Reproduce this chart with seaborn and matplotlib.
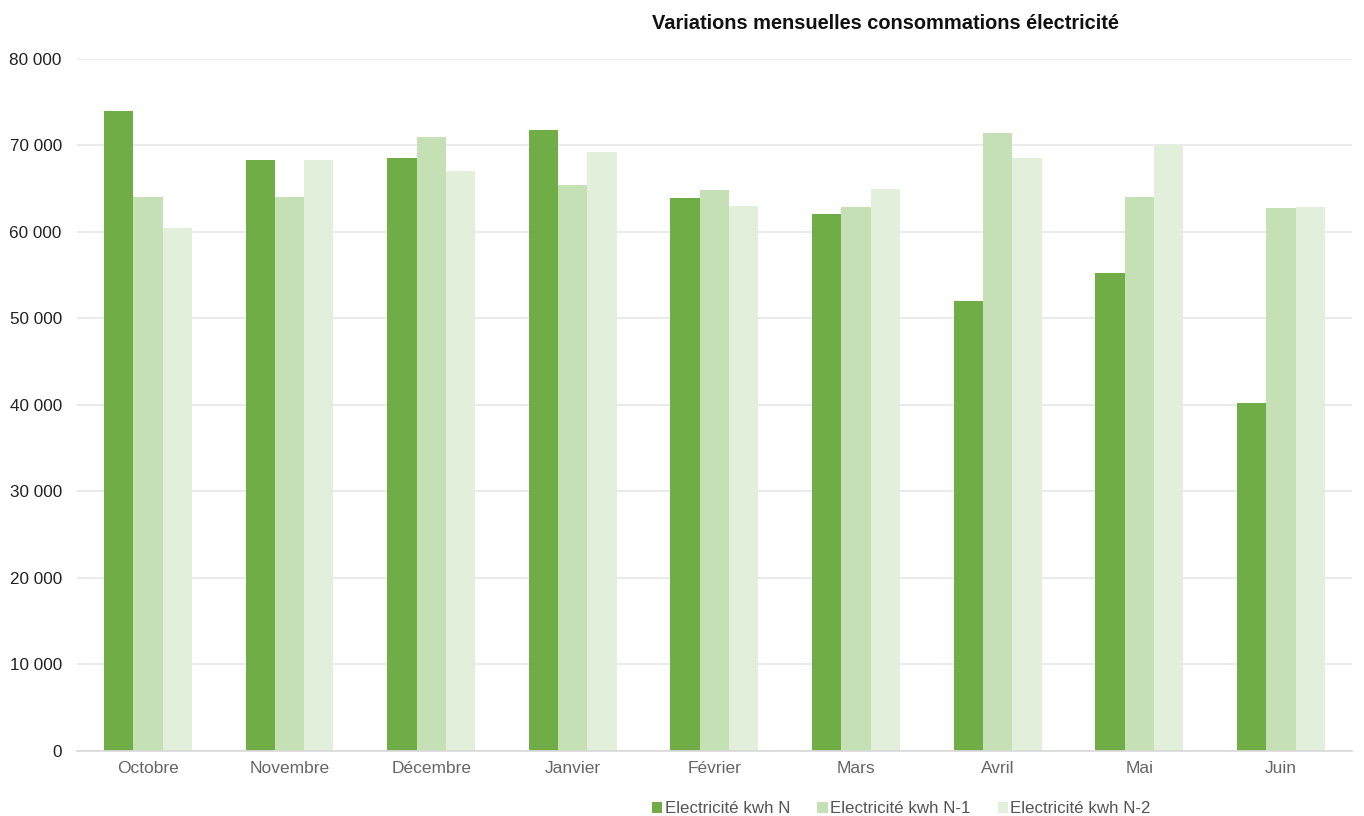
import matplotlib
matplotlib.use("Agg")
import matplotlib.pyplot as plt
import seaborn as sns
import pandas as pd
from matplotlib.ticker import FuncFormatter
from matplotlib.patches import Patch

months = ["Octobre", "Novembre", "Décembre", "Janvier", "Février", "Mars", "Avril", "Mai", "Juin"]
series_names = ["Electricité kwh N", "Electricité kwh N-1", "Electricité kwh N-2"]
vals_n = [74000, 68300, 68500, 71800, 63900, 62100, 52000, 55300, 40200]
vals_n1 = [64000, 64000, 71000, 65400, 64800, 62900, 71400, 64100, 62800]
vals_n2 = [60500, 68300, 67100, 69300, 63000, 65000, 68500, 70000, 62900]
colors = ["#70ad47", "#c5e0b4", "#e2efda"]

rows = []
for name, vals in zip(series_names, [vals_n, vals_n1, vals_n2]):
    for m, v in zip(months, vals):
        rows.append({"Mois": m, "Série": name, "Valeur": v})
df = pd.DataFrame(rows)

sns.set_theme(style="white")
plt.rcParams['font.family'] = ['Liberation Sans', 'DejaVu Sans']

fig = plt.figure(figsize=(13.64, 8.16), dpi=100)
ax = fig.add_axes([0.0565, 0.0797, 0.9345, 0.848])

sns.barplot(data=df, x="Mois", y="Valeur", hue="Série", order=months,
            hue_order=series_names, palette=colors, width=0.62, saturation=1,
            ax=ax, legend=False, linewidth=0)

ax.set_ylim(0, 80000)
ax.set_yticks(range(0, 80001, 10000))
ax.yaxis.set_major_formatter(FuncFormatter(lambda v, p: f"{int(v):,}".replace(",", " ")))
ax.grid(axis="y", color="#e6e6e6", linewidth=1.2)
ax.set_axisbelow(True)
for s in ["top", "right", "left"]:
    ax.spines[s].set_visible(False)
ax.spines["bottom"].set_color("#d9d9d9")
ax.set_xlabel("")
ax.set_ylabel("")
ax.tick_params(axis="y", labelsize=12.3, colors="#222222", length=0, pad=11)
ax.tick_params(axis="x", labelsize=12.5, colors="#666666", length=0, pad=7)
ax.set_xlim(-0.5, len(months) - 0.5)

fig.text(0.649, 0.971, "Variations mensuelles consommations électricité",
         ha="center", va="center", fontsize=14.4, fontweight="bold", color="#111111")

handles = [Patch(facecolor=c, edgecolor="none") for c in colors]
fig.legend(handles, series_names, loc="center", bbox_to_anchor=(0.661, 0.009),
           ncol=3, frameon=False, fontsize=12.2, handlelength=0.6, handleheight=0.6,
           handletextpad=0.15, columnspacing=1.6, labelcolor="#555555")

fig.savefig("out.png", dpi=100)
